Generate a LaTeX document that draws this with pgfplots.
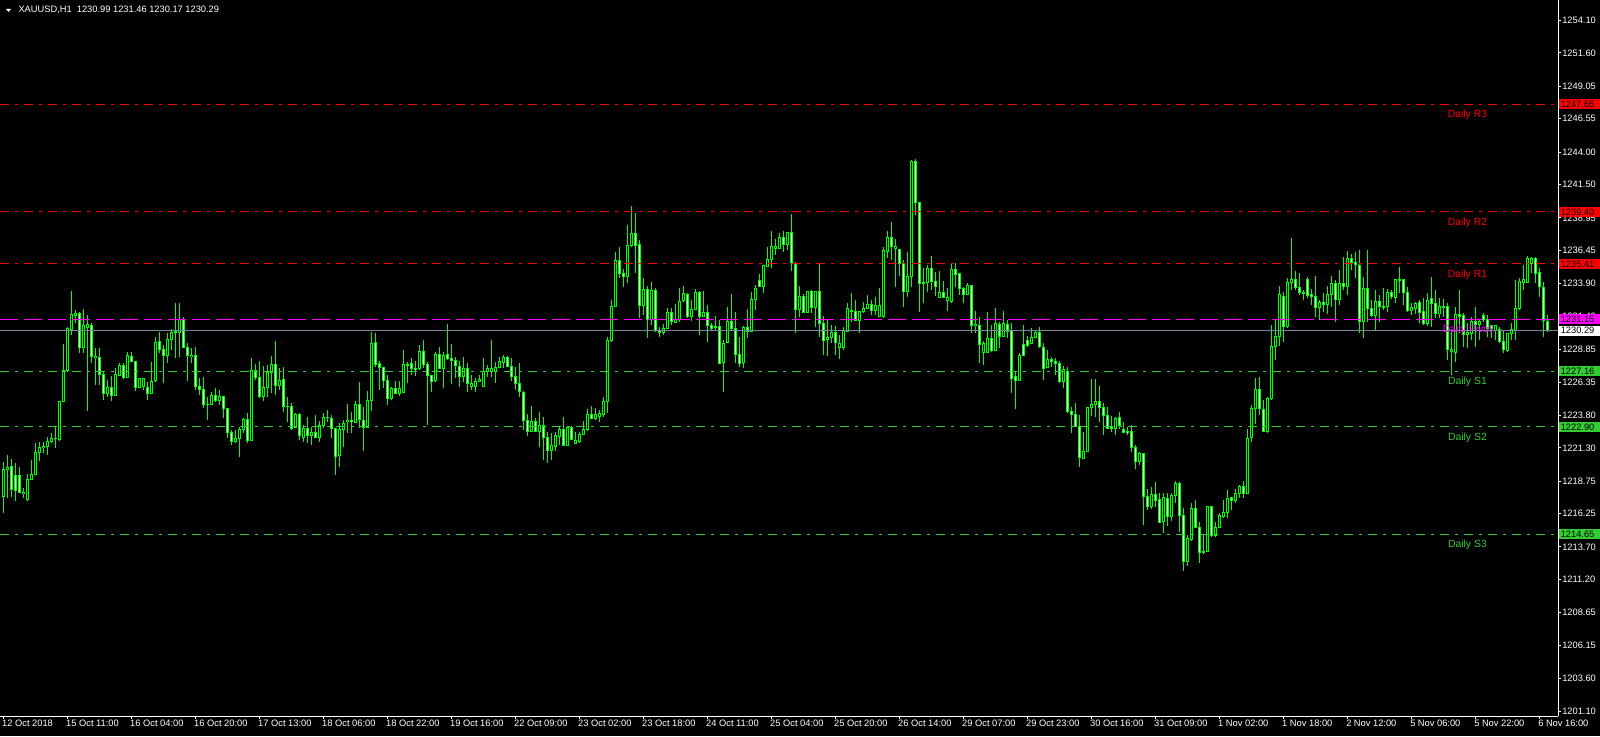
\documentclass[border=0pt]{standalone}
\usepackage{fontspec}
\setmainfont{Liberation Sans}
\usepackage{pgfplots}
\usepackage{pgfplotstable}
\pgfplotsset{compat=1.18}
\definecolor{lgreen}{RGB}{50,205,50}
\definecolor{slate}{RGB}{119,136,153}
\definecolor{mag}{RGB}{255,0,255}
\definecolor{lime}{RGB}{0,255,0}

\pgfplotstableread{
i o h l c
0 1217.6 1220.24 1216.27 1219.6
1 1219.6 1220.75 1217.42 1219.8
2 1219.9 1220.44 1217.55 1218.07
3 1219.2 1220.16 1217.24 1218.0
4 1219.2 1219.85 1217.8 1217.86
5 1217.8 1218.19 1217.42 1217.9
6 1217.3 1219.27 1217.24 1218.9
7 1218.88 1220.37 1218.83 1219.22
8 1219.24 1221.64 1219.22 1220.95
9 1220.93 1221.72 1220.29 1221.34
10 1221.34 1221.77 1220.88 1221.44
11 1221.44 1222.16 1220.75 1221.8
12 1221.8 1222.41 1221.65 1222.03
13 1222.03 1222.92 1221.26 1222.0
14 1221.95 1224.9 1221.85 1224.87
15 1224.87 1229.27 1224.84 1227.22
16 1227.22 1230.6 1227.15 1230.47
17 1230.4 1233.34 1229.96 1231.5
18 1231.45 1231.88 1230.85 1231.62
19 1231.62 1231.7 1228.6 1228.99
20 1228.99 1231.95 1228.6 1230.68
21 1230.52 1231.5 1224.15 1230.8
22 1230.65 1230.9 1227.8 1228.3
23 1228.2 1228.94 1226.12 1228.3
24 1228.25 1228.94 1226.12 1226.94
25 1226.94 1227.15 1224.97 1225.48
26 1225.48 1226.5 1225.18 1225.94
27 1225.94 1226.84 1224.92 1225.35
28 1225.35 1227.4 1225.28 1226.94
29 1226.84 1227.78 1226.8 1227.63
30 1227.63 1227.78 1226.61 1226.68
31 1226.68 1228.68 1226.63 1228.35
32 1228.32 1228.68 1227.9 1227.91
33 1227.91 1227.96 1225.69 1225.94
34 1225.94 1226.68 1225.86 1226.63
35 1226.0 1226.68 1225.74 1226.6
36 1225.94 1226.33 1224.97 1225.48
37 1225.48 1227.91 1225.48 1226.38
38 1226.43 1229.83 1226.38 1229.4
39 1229.45 1230.22 1228.55 1228.81
40 1228.88 1229.19 1226.25 1228.37
41 1228.35 1230.09 1227.84 1229.58
42 1229.58 1230.4 1228.81 1230.14
43 1230.14 1232.44 1228.22 1230.22
44 1230.14 1232.44 1228.3 1231.16
45 1231.16 1231.37 1228.94 1229.01
46 1228.99 1229.32 1226.4 1228.35
47 1228.3 1228.94 1227.78 1228.42
48 1228.42 1229.06 1225.74 1225.99
49 1225.99 1226.63 1225.36 1225.74
50 1225.74 1226.71 1224.33 1224.66
51 1224.6 1225.23 1223.44 1224.66
52 1224.66 1225.56 1224.59 1225.3
53 1225.3 1225.87 1224.84 1224.92
54 1224.92 1225.74 1224.59 1225.25
55 1225.25 1225.28 1223.56 1224.33
56 1224.33 1224.38 1222.03 1222.46
57 1222.49 1222.67 1221.52 1221.77
58 1221.77 1222.67 1221.65 1222.05
59 1222.03 1222.92 1220.62 1222.72
60 1222.67 1223.56 1222.41 1223.44
61 1223.44 1223.95 1221.7 1221.85
62 1221.85 1228.17 1221.85 1227.2
63 1227.2 1227.73 1226.51 1226.71
64 1226.71 1227.96 1225.1 1225.23
65 1225.23 1227.58 1224.92 1225.94
66 1225.94 1227.66 1225.23 1227.1
67 1227.1 1228.35 1225.48 1227.71
68 1227.71 1229.5 1225.36 1226.12
69 1226.12 1227.4 1225.74 1226.5
70 1226.56 1227.48 1224.08 1224.46
71 1224.48 1225.18 1223.31 1224.5
72 1224.46 1224.72 1222.67 1222.8
73 1222.87 1223.95 1222.8 1223.87
74 1223.87 1223.95 1221.9 1222.28
75 1222.1 1223.05 1221.77 1222.8
76 1222.8 1223.69 1221.65 1222.28
77 1222.28 1222.92 1221.52 1222.46
78 1222.46 1223.82 1222.03 1222.08
79 1222.08 1223.36 1221.77 1223.05
80 1223.05 1224.0 1222.85 1223.61
81 1223.61 1224.2 1223.3 1223.66
82 1223.56 1223.82 1222.03 1222.79
83 1222.79 1222.85 1219.21 1220.62
84 1220.7 1223.18 1219.85 1222.67
85 1222.67 1223.43 1221.39 1223.18
86 1223.3 1224.66 1222.41 1223.4
87 1223.4 1224.07 1222.41 1223.3
88 1223.26 1224.89 1223.18 1224.59
89 1224.59 1226.33 1222.79 1223.49
90 1223.43 1224.46 1221.08 1222.87
91 1222.87 1225.66 1222.87 1224.94
92 1224.94 1230.16 1224.12 1229.32
93 1229.39 1230.09 1227.53 1227.71
94 1227.78 1227.96 1225.74 1227.45
95 1227.45 1227.53 1225.86 1226.43
96 1226.43 1226.89 1224.59 1225.1
97 1225.1 1225.99 1224.97 1225.86
98 1225.86 1226.43 1225.4 1225.48
99 1225.48 1226.43 1225.3 1225.86
100 1225.56 1228.81 1225.48 1227.66
101 1227.66 1227.86 1226.25 1227.6
102 1227.78 1228.22 1226.89 1227.35
103 1227.4 1227.96 1226.84 1227.3
104 1227.4 1229.19 1227.27 1228.73
105 1228.73 1229.57 1227.4 1227.66
106 1227.71 1227.91 1223.05 1226.84
107 1226.84 1226.89 1225.56 1226.38
108 1226.43 1228.63 1226.38 1228.47
109 1228.47 1229.06 1227.4 1227.4
110 1227.4 1228.68 1225.86 1228.42
111 1228.47 1230.8 1228.04 1228.12
112 1228.12 1229.24 1226.17 1228.02
113 1228.04 1228.29 1226.68 1227.6
114 1227.53 1227.96 1225.99 1226.76
115 1226.76 1228.29 1226.37 1227.4
116 1227.4 1227.78 1225.61 1226.25
117 1226.0 1226.89 1225.74 1226.25
118 1225.99 1226.68 1225.61 1226.42
119 1226.37 1226.89 1226.32 1226.58
120 1225.99 1228.17 1225.99 1227.19
121 1227.19 1227.65 1226.76 1227.35
122 1227.19 1229.57 1226.76 1227.4
123 1227.14 1227.91 1226.25 1227.45
124 1227.45 1228.29 1227.4 1227.91
125 1227.86 1228.42 1227.4 1228.22
126 1228.24 1228.34 1227.53 1227.53
127 1227.53 1228.17 1226.43 1226.76
128 1226.76 1227.53 1225.74 1226.25
129 1226.25 1227.78 1225.22 1225.61
130 1225.56 1225.66 1222.67 1223.36
131 1223.41 1223.87 1222.23 1222.59
132 1222.54 1224.51 1222.49 1223.3
133 1223.3 1223.61 1222.49 1222.54
134 1222.54 1224.02 1221.39 1223.05
135 1223.05 1223.69 1220.36 1222.08
136 1222.08 1222.54 1220.11 1221.13
137 1221.13 1222.41 1220.36 1221.46
138 1221.39 1222.49 1221.05 1222.28
139 1222.15 1222.92 1221.51 1222.74
140 1222.74 1223.69 1221.46 1221.46
141 1221.46 1222.92 1221.46 1222.84
142 1222.84 1223.0 1221.9 1221.97
143 1221.64 1222.49 1221.56 1221.9
144 1221.77 1222.49 1221.64 1222.33
145 1222.33 1223.36 1222.28 1222.67
146 1222.67 1224.28 1222.59 1223.82
147 1223.82 1224.53 1223.51 1223.56
148 1223.56 1224.33 1223.43 1223.82
149 1223.69 1224.2 1223.3 1223.95
150 1223.87 1225.22 1223.69 1224.89
151 1224.84 1229.83 1223.94 1229.57
152 1229.5 1232.64 1229.44 1232.13
153 1232.13 1236.35 1232.13 1235.71
154 1235.71 1236.73 1234.36 1234.69
155 1234.69 1235.02 1233.66 1234.43
156 1234.43 1238.4 1233.92 1236.86
157 1236.81 1239.86 1236.73 1237.76
158 1237.76 1239.29 1234.69 1236.81
159 1236.91 1237.25 1231.29 1232.26
160 1232.26 1234.36 1231.49 1233.46
161 1233.46 1233.74 1229.75 1231.11
162 1231.11 1233.99 1230.72 1233.41
163 1233.41 1233.59 1230.16 1230.34
164 1230.34 1230.6 1229.83 1230.16
165 1230.16 1230.77 1229.96 1230.47
166 1230.47 1232.0 1230.42 1231.7
167 1231.7 1232.0 1230.72 1230.98
168 1230.93 1232.3 1230.9 1231.11
169 1231.11 1233.54 1230.98 1232.56
170 1232.64 1233.72 1232.51 1233.15
171 1233.08 1233.2 1231.29 1231.36
172 1231.36 1232.64 1231.03 1231.93
173 1231.93 1233.49 1231.88 1233.23
174 1233.23 1233.33 1229.96 1231.36
175 1231.36 1233.33 1231.36 1231.7
176 1231.7 1232.26 1229.44 1230.67
177 1230.72 1230.85 1230.34 1230.47
178 1230.6 1231.44 1230.26 1230.54
179 1230.6 1231.11 1227.78 1227.78
180 1227.86 1229.57 1225.61 1229.32
181 1229.39 1232.13 1229.32 1231.03
182 1231.03 1233.1 1230.34 1230.42
183 1230.47 1231.75 1227.78 1228.47
184 1228.47 1229.83 1227.53 1227.78
185 1227.86 1230.67 1227.4 1230.54
186 1230.54 1231.95 1229.7 1230.26
187 1230.26 1233.28 1230.16 1232.72
188 1232.72 1233.79 1231.88 1233.49
189 1234.17 1234.63 1233.61 1233.66
190 1233.66 1235.33 1233.15 1235.3
191 1235.25 1236.68 1235.15 1235.76
192 1235.76 1237.93 1235.07 1236.73
193 1236.6 1237.29 1236.09 1236.73
194 1236.6 1237.81 1236.6 1237.45
195 1237.45 1237.93 1236.35 1236.91
196 1236.91 1237.88 1236.48 1237.83
197 1237.83 1239.24 1234.89 1235.5
198 1235.38 1235.58 1230.13 1231.92
199 1231.92 1233.71 1231.36 1232.94
200 1232.94 1233.1 1231.62 1231.67
201 1231.67 1233.36 1231.67 1233.33
202 1233.33 1233.41 1231.62 1232.08
203 1232.08 1233.36 1230.59 1233.28
204 1233.28 1235.45 1229.82 1230.85
205 1230.85 1231.41 1228.42 1229.57
206 1229.62 1231.1 1228.34 1229.77
207 1229.77 1230.72 1229.31 1230.13
208 1230.13 1230.64 1228.42 1229.39
209 1229.0 1229.95 1228.08 1229.31
210 1229.0 1230.59 1228.8 1230.33
211 1230.2 1232.43 1230.2 1232.0
212 1231.8 1233.15 1230.97 1231.85
213 1231.74 1232.64 1231.1 1231.1
214 1231.1 1231.79 1230.08 1231.74
215 1231.74 1232.51 1231.61 1232.0
216 1232.0 1233.02 1232.0 1232.33
217 1232.33 1232.64 1231.49 1231.87
218 1231.82 1232.9 1231.49 1232.25
219 1231.36 1233.53 1231.36 1232.25
220 1231.36 1236.73 1231.28 1236.48
221 1236.35 1237.93 1235.83 1237.45
222 1237.45 1238.65 1235.71 1236.73
223 1236.6 1237.29 1233.66 1236.73
224 1236.53 1236.55 1234.48 1235.45
225 1235.45 1235.71 1232.08 1233.28
226 1233.28 1236.35 1232.9 1234.48
227 1234.48 1243.38 1233.66 1243.31
228 1243.31 1243.46 1239.16 1240.11
229 1240.13 1240.18 1231.75 1233.92
230 1233.99 1235.07 1232.39 1233.92
231 1234.0 1235.33 1233.28 1235.07
232 1235.07 1236.02 1233.41 1234.05
233 1234.05 1234.82 1232.98 1233.67
234 1232.85 1234.87 1232.82 1233.23
235 1233.23 1234.1 1232.77 1232.85
236 1232.6 1233.54 1231.82 1232.85
237 1232.51 1235.46 1232.39 1235.02
238 1235.02 1235.46 1233.67 1234.61
239 1234.64 1234.69 1233.03 1233.54
240 1233.54 1233.67 1232.39 1233.08
241 1233.08 1233.97 1233.03 1233.79
242 1233.72 1233.72 1230.08 1230.72
243 1230.65 1231.8 1230.08 1230.8
244 1230.72 1231.36 1227.78 1229.24
245 1228.6 1229.52 1227.65 1229.27
246 1228.6 1231.75 1228.55 1229.7
247 1229.7 1230.72 1228.68 1228.75
248 1228.75 1232.0 1228.75 1230.85
249 1230.8 1230.98 1228.93 1229.88
250 1229.88 1231.8 1229.83 1230.85
251 1230.8 1231.11 1229.7 1230.26
252 1230.34 1230.9 1225.48 1226.63
253 1226.76 1227.14 1224.25 1226.5
254 1226.5 1228.55 1226.5 1228.42
255 1229.24 1230.72 1228.35 1228.35
256 1229.57 1229.88 1229.06 1229.19
257 1229.27 1230.47 1229.27 1229.78
258 1229.78 1230.34 1229.7 1230.13
259 1230.13 1230.6 1228.93 1229.06
260 1229.01 1229.37 1226.5 1227.4
261 1227.47 1228.81 1227.4 1228.09
262 1228.09 1228.24 1227.53 1227.91
263 1227.96 1228.17 1226.89 1227.78
264 1227.78 1228.0 1226.3 1226.38
265 1226.38 1227.6 1225.86 1227.3
266 1227.14 1227.5 1223.94 1224.07
267 1224.12 1224.4 1222.46 1223.87
268 1223.89 1224.76 1222.92 1222.92
269 1222.92 1223.82 1219.85 1220.57
270 1220.49 1222.54 1220.49 1221.05
271 1221.0 1224.46 1221.0 1224.4
272 1224.4 1226.55 1223.74 1224.66
273 1224.6 1226.55 1223.69 1224.84
274 1224.84 1226.04 1223.25 1224.4
275 1224.4 1224.76 1222.28 1223.79
276 1223.79 1224.4 1222.72 1222.79
277 1222.92 1223.74 1222.54 1222.79
278 1222.79 1223.69 1222.28 1223.56
279 1223.64 1224.07 1222.72 1223.05
280 1222.67 1223.3 1222.41 1222.49
281 1222.59 1222.87 1222.28 1222.46
282 1222.59 1223.05 1221.0 1221.34
283 1221.34 1221.52 1219.65 1220.23
284 1220.23 1221.0 1219.98 1220.87
285 1220.87 1220.93 1215.37 1217.55
286 1217.55 1218.11 1216.53 1216.78
287 1216.78 1218.27 1216.58 1217.75
288 1217.75 1218.65 1216.73 1217.29
289 1217.34 1217.86 1215.55 1215.55
290 1215.63 1217.86 1214.74 1217.5
291 1217.42 1217.8 1215.3 1216.01
292 1216.01 1217.8 1215.71 1217.68
293 1217.68 1218.75 1217.04 1218.57
294 1218.57 1218.65 1214.86 1216.09
295 1216.09 1216.65 1211.87 1212.56
296 1212.56 1214.61 1212.23 1214.35
297 1214.27 1217.04 1214.17 1216.65
298 1216.65 1217.29 1215.12 1215.2
299 1215.2 1215.63 1212.48 1213.25
300 1213.33 1214.61 1213.15 1213.25
301 1213.33 1216.83 1213.33 1216.78
302 1216.78 1216.86 1214.48 1214.61
303 1214.61 1215.58 1214.48 1215.2
304 1215.17 1216.27 1215.12 1216.07
305 1216.02 1217.3 1215.94 1216.35
306 1216.35 1218.06 1215.89 1217.42
307 1217.5 1217.55 1216.53 1217.22
308 1217.22 1218.14 1217.04 1217.81
309 1217.81 1218.45 1217.47 1218.32
310 1218.32 1218.75 1217.47 1217.81
311 1217.81 1222.74 1217.73 1222.03
312 1222.08 1224.59 1221.72 1224.33
313 1224.33 1226.63 1223.1 1225.81
314 1225.81 1226.76 1223.82 1224.28
315 1224.25 1224.97 1222.49 1222.59
316 1222.54 1225.23 1222.41 1225.05
317 1225.05 1230.73 1224.97 1229.06
318 1229.06 1231.11 1228.04 1229.88
319 1229.83 1233.72 1229.14 1233.03
320 1232.95 1233.28 1229.45 1230.6
321 1230.6 1234.31 1230.52 1234.0
322 1234.0 1237.38 1233.41 1234.23
323 1234.23 1234.87 1233.41 1233.59
324 1233.59 1234.69 1233.03 1233.21
325 1233.23 1233.41 1232.64 1233.16
326 1234.18 1234.43 1232.82 1232.98
327 1233.03 1233.49 1232.26 1232.9
328 1232.9 1234.48 1231.37 1232.06
329 1232.06 1232.64 1231.11 1232.46
330 1232.46 1233.16 1231.75 1232.31
331 1232.31 1233.72 1231.54 1233.08
332 1233.08 1234.48 1232.13 1233.92
333 1233.92 1234.18 1230.93 1232.72
334 1232.72 1234.95 1232.26 1233.92
335 1233.92 1235.97 1233.41 1233.67
336 1233.67 1236.4 1233.03 1235.84
337 1235.84 1236.15 1234.95 1235.53
338 1235.53 1236.35 1234.31 1235.38
339 1235.33 1236.48 1230.09 1230.98
340 1230.98 1234.44 1229.7 1233.54
341 1233.54 1236.48 1230.98 1232.01
342 1232.01 1232.65 1231.37 1231.49
343 1231.49 1233.41 1230.34 1232.52
344 1232.52 1233.03 1230.98 1232.13
345 1232.13 1233.54 1231.88 1232.06
346 1232.13 1233.46 1231.75 1233.21
347 1233.21 1233.41 1232.7 1232.9
348 1232.85 1234.23 1232.39 1234.18
349 1234.18 1235.2 1233.16 1234.13
350 1234.18 1234.23 1232.26 1233.21
351 1233.21 1233.67 1231.75 1231.83
352 1231.83 1232.39 1231.49 1232.08
353 1231.96 1232.52 1231.57 1232.39
354 1232.44 1232.65 1230.85 1231.67
355 1231.75 1232.77 1230.73 1230.85
356 1230.85 1233.16 1230.65 1232.59
357 1232.77 1234.44 1230.6 1232.39
358 1232.39 1233.41 1231.24 1231.62
359 1231.57 1232.77 1231.24 1232.13
360 1232.13 1232.7 1231.37 1232.08
361 1232.18 1232.39 1228.04 1228.86
362 1228.73 1230.34 1226.89 1228.86
363 1228.63 1232.13 1227.91 1231.57
364 1231.57 1233.41 1230.09 1231.37
365 1231.42 1231.62 1229.06 1229.96
366 1229.96 1230.85 1228.94 1230.14
367 1230.09 1231.37 1229.58 1230.98
368 1230.98 1232.13 1229.06 1230.73
369 1230.73 1231.11 1229.58 1230.98
370 1231.49 1231.62 1230.98 1231.11
371 1231.11 1231.49 1229.83 1230.47
372 1230.65 1230.73 1229.7 1230.47
373 1230.34 1230.73 1229.58 1230.65
374 1230.39 1230.6 1229.32 1229.45
375 1229.45 1230.34 1228.55 1228.81
376 1228.76 1230.09 1228.68 1230.04
377 1230.04 1230.85 1229.58 1230.39
378 1230.29 1234.18 1229.58 1232.01
379 1232.01 1234.31 1231.9 1234.05
380 1234.0 1235.33 1233.41 1234.2
381 1233.98 1236.02 1233.92 1235.84
382 1235.46 1235.97 1234.69 1235.84
383 1235.84 1235.92 1233.92 1234.69
384 1234.74 1235.08 1232.9 1233.67
385 1233.62 1234.05 1229.83 1231.06
386 1230.99 1231.46 1230.17 1230.29
}\candles

\begin{document}
\begin{tikzpicture}[x=1pt,y=1pt,
  tag/.style={anchor=west, inner xsep=1.5pt, inner ysep=0pt, minimum height=10pt, minimum width=42pt, align=left, text width=39pt, font=\fontsize{9.3}{10}\selectfont},
  dlab/.style={font=\fontsize{10.4}{12}\selectfont, yshift=-10.5pt}]
\begin{axis}[
  set layers,
  at={(0pt,0pt)}, anchor=north west,
  scale only axis, width=1558pt, height=716pt,
  xmin=-0.75, xmax=388.75, ymin=1200.72, ymax=1255.666,
  clip=false,
  axis x line*=bottom, axis y line*=right,
  axis line style={white, line width=1pt},
  tick style={white, line width=1pt},
  major tick length=3pt, tick align=outside,
  xtick={0,16,...,384},
  xticklabels={12 Oct 2018,15 Oct 11:00,16 Oct 04:00,16 Oct 20:00,17 Oct 13:00,18 Oct 06:00,18 Oct 22:00,19 Oct 16:00,22 Oct 09:00,23 Oct 02:00,23 Oct 18:00,24 Oct 11:00,25 Oct 04:00,25 Oct 20:00,26 Oct 14:00,29 Oct 07:00,29 Oct 23:00,30 Oct 16:00,31 Oct 09:00,1 Nov 02:00,1 Nov 18:00,2 Nov 12:00,5 Nov 06:00,5 Nov 22:00,6 Nov 16:00},
  ytick={1201.10,1203.60,1206.15,1208.65,1211.20,1213.70,1216.25,1218.75,1221.30,1223.80,1226.35,1228.85,1231.40,1233.90,1236.45,1238.95,1241.50,1244.00,1246.55,1249.05,1251.60,1254.10},
  yticklabels={1201.10,1203.60,1206.15,1208.65,1211.20,1213.70,1216.25,1218.75,1221.30,1223.80,1226.35,1228.85,1231.40,1233.90,1236.45,1238.95,1241.50,1244.00,1246.55,1249.05,1251.60,1254.10},
  tick label style={font=\fontsize{9.3}{11}\selectfont, text=white, inner sep=0pt},
  xticklabel style={anchor=north west, xshift=-1pt, yshift=-1pt},
  yticklabel style={anchor=west, xshift=1pt},
]
\begin{pgfonlayer}{axis background}
\fill[black] (axis cs:-0.75,1199.185) rectangle (axis cs:399.25,1255.666);
\end{pgfonlayer}

% wicks
\addplot[draw=lime, line width=1pt, no marks, quiver={u=0, v=\thisrow{h}-\thisrow{l}}] table[x=i, y=l] {\candles};
% body outlines
\addplot[draw=lime, line width=3pt, no marks, quiver={u=0, v={abs(\thisrow{c}-\thisrow{o})+0.0767}}] table[x=i, y expr={min(\thisrow{o},\thisrow{c})-0.0384}] {\candles};
% bull interiors (hollow)
\addplot[draw=black, line width=1pt, no marks, restrict expr to domain={\thisrow{c}-\thisrow{o}}{0.1:1000}, quiver={u=0, v={\thisrow{c}-\thisrow{o}-0.0767}}] table[x=i, y expr={\thisrow{o}+0.0384}] {\candles};
% bear interiors (white)
\addplot[draw=white, line width=1pt, no marks, restrict expr to domain={\thisrow{o}-\thisrow{c}}{0.1:1000}, quiver={u=0, v={\thisrow{o}-\thisrow{c}-0.0767}}] table[x=i, y expr={\thisrow{c}+0.0384}] {\candles};

% pivot levels
\addplot[red, line width=1pt, dash pattern=on 9pt off 6pt on 3pt off 6pt] coordinates {(-0.75,1247.65) (388.75,1247.65)};
\addplot[red, line width=1pt, dash pattern=on 9pt off 6pt on 3pt off 6pt] coordinates {(-0.75,1239.40) (388.75,1239.40)};
\addplot[red, line width=1pt, dash pattern=on 9pt off 6pt on 3pt off 6pt] coordinates {(-0.75,1235.41) (388.75,1235.41)};
\addplot[mag, line width=1pt, dash pattern=on 18pt off 6pt] coordinates {(-0.75,1231.15) (388.75,1231.15)};
\addplot[slate, line width=1pt] coordinates {(-0.75,1230.29) (388.75,1230.29)};
\addplot[lgreen, line width=1pt, dash pattern=on 9pt off 6pt on 3pt off 6pt] coordinates {(-0.75,1227.16) (388.75,1227.16)};
\addplot[lgreen, line width=1pt, dash pattern=on 9pt off 6pt on 3pt off 6pt] coordinates {(-0.75,1222.90) (388.75,1222.90)};
\addplot[lgreen, line width=1pt, dash pattern=on 9pt off 6pt on 3pt off 6pt] coordinates {(-0.75,1214.65) (388.75,1214.65)};

% level names
\node[dlab, text=red] at (axis cs:366.1,1247.65) {Daily R3};
\node[dlab, text=red] at (axis cs:366.1,1239.40) {Daily R2};
\node[dlab, text=red] at (axis cs:366.1,1235.41) {Daily R1};
\node[dlab, text=mag] at (axis cs:366.1,1231.15) {Daily Pivot};
\node[dlab, text=lgreen] at (axis cs:366.1,1227.16) {Daily S1};
\node[dlab, text=lgreen] at (axis cs:366.1,1222.90) {Daily S2};
\node[dlab, text=lgreen] at (axis cs:366.1,1214.65) {Daily S3};

% price tags
\node[tag, fill=red, text=black] at (axis cs:389.0,1247.65) {1247.65};
\node[tag, fill=red, text=black] at (axis cs:389.0,1239.40) {1239.40};
\node[tag, fill=red, text=black] at (axis cs:389.0,1235.41) {1235.41};
\node[tag, fill=mag, text=black] at (axis cs:389.0,1231.15) {1231.15};
\node[tag, fill=white, text=black] at (axis cs:389.0,1230.29) {1230.29};
\node[tag, fill=lgreen, text=black] at (axis cs:389.0,1227.16) {1227.16};
\node[tag, fill=lgreen, text=black] at (axis cs:389.0,1222.90) {1222.90};
\node[tag, fill=lgreen, text=black] at (axis cs:389.0,1214.65) {1214.65};

% title
\node[anchor=west, text=white, inner sep=0pt, font=\fontsize{9.3}{11}\selectfont] at (axis cs:3.825,1254.876) {XAUUSD,H1\ \ 1230.99 1231.46 1230.17 1230.29};
\fill[white] (axis cs:0.75,1254.98) -- (axis cs:2.0,1254.98) -- (axis cs:1.375,1254.75) -- cycle;
\end{axis}
\pgfresetboundingbox
\path (0,0) rectangle (1600,-736);
\end{tikzpicture}
\end{document}
